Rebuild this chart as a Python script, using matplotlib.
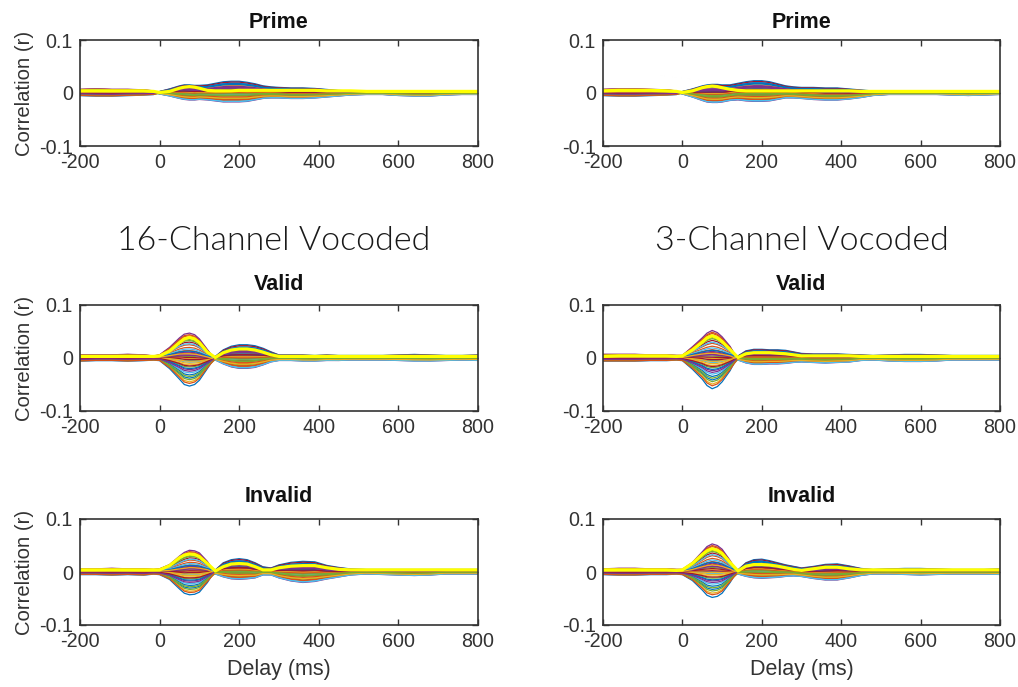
import numpy as np
import matplotlib
matplotlib.use("Agg")
import matplotlib.pyplot as plt

plt.rcParams['font.family'] = ['Liberation Sans', 'DejaVu Sans']
plt.rcParams['axes.unicode_minus'] = False

# Sample delays (ms) shared by all panels
delay_ms = [-200, -160, -120, -80, -40, -15, 0, 25, 50, 62, 75, 88, 100, 120, 140, 160, 180,
            200, 220, 240, 260, 280, 300, 330, 360, 390, 420, 450, 480, 520, 560,
            600, 640, 680, 720, 760, 800]

# Upper / lower channel envelopes and the summary (yellow) trace, per panel
prime16_upper = [.007, .008, .007, .007, .006, .004, .003, .008, .014, .016, .016, .015, .015, .016, .019, .022, .023,
                 .023, .021, .018, .014, .012, .011, .010, .010, .009, .007, .005, .004, .004, .004,
                 .004, .004, .004, .004, .004, .004]
prime16_lower = [-.005, -.006, -.006, -.005, -.004, -.003, -.002, -.006, -.011, -.013, -.014, -.014, -.013, -.014, -.016, -.018, -.018,
                 -.018, -.017, -.014, -.011, -.010, -.010, -.011, -.011, -.010, -.008, -.006, -.004, -.003, -.003,
                 -.005, -.006, -.006, -.004, -.003, -.003]
prime16_mean = [.004, .004, .004, .004, .004, .003, .001, .003, .009, .011, .012, .011, .009, .005, .004, .004, .004,
                .005, .005, .005, .005, .005, .005, .005, .005, .005, .004, .004, .004, .003, .003,
                .003, .003, .003, .003, .003, .003]

prime3_upper = [.007, .008, .008, .007, .006, .004, .003, .008, .014, .016, .017, .017, .016, .016, .019, .022, .024,
                .024, .022, .018, .014, .012, .011, .011, .010, .010, .008, .006, .004, .004, .004,
                .004, .004, .004, .004, .004, .004]
prime3_lower = [-.005, -.006, -.006, -.005, -.004, -.003, -.002, -.008, -.015, -.018, -.019, -.019, -.018, -.015, -.014, -.016, -.017,
                -.017, -.016, -.013, -.010, -.010, -.011, -.013, -.014, -.014, -.012, -.009, -.005, -.003, -.003,
                -.003, -.003, -.004, -.005, -.004, -.003]
prime3_mean = [.004, .005, .005, .005, .004, .003, .001, .004, .010, .012, .013, .012, .010, .007, .005, .004, .004,
               .004, .004, .004, .004, .004, .004, .004, .004, .004, .004, .003, .003, .003, .003,
               .003, .003, .003, .003, .003, .003]

valid16_upper = [.006, .006, .006, .007, .006, .004, .006, .020, .038, .045, .047, .044, .036, .016, .003, .016, .023,
                 .026, .026, .024, .019, .012, .006, .006, .006, .005, .006, .005, .005, .005, .005,
                 .006, .007, .006, .005, .005, .006]
valid16_lower = [-.006, -.005, -.005, -.006, -.005, -.004, -.005, -.020, -.040, -.050, -.053, -.050, -.042, -.020, -.004, -.012, -.018,
                 -.021, -.021, -.019, -.014, -.008, -.005, -.005, -.006, -.006, -.005, -.005, -.004, -.004, -.004,
                 -.005, -.006, -.006, -.005, -.004, -.005]
valid16_mean = [.003, .003, .003, .003, .003, .003, .004, .013, .029, .036, .039, .036, .029, .011, .001, .010, .015,
                .017, .017, .015, .011, .006, .003, .003, .003, .003, .003, .003, .003, .003, .003,
                .003, .003, .003, .003, .003, .003]

valid3_upper = [.007, .007, .007, .006, .006, .005, .005, .021, .038, .047, .052, .048, .040, .022, .004, .014, .017,
                .017, .016, .016, .015, .012, .009, .008, .008, .008, .007, .006, .005, .006, .007,
                .007, .006, .005, .005, .005, .005]
valid3_lower = [-.006, -.006, -.006, -.005, -.005, -.004, -.005, -.021, -.040, -.052, -.058, -.054, -.045, -.024, -.004, -.010, -.013,
                -.013, -.012, -.012, -.011, -.009, -.008, -.009, -.010, -.009, -.008, -.005, -.004, -.006, -.007,
                -.007, -.006, -.004, -.004, -.004, -.004]
valid3_mean = [.003, .004, .004, .004, .004, .003, .004, .015, .030, .038, .042, .038, .031, .016, .001, .008, .010,
               .010, .010, .009, .008, .006, .004, .004, .004, .004, .004, .003, .003, .003, .003,
               .003, .003, .003, .003, .003, .003]

invalid16_upper = [.006, .006, .007, .006, .006, .005, .006, .014, .030, .037, .041, .040, .036, .020, .004, .018, .024,
                   .026, .024, .018, .010, .008, .014, .019, .021, .020, .013, .009, .006, .005, .005,
                   .005, .005, .005, .005, .005, .005]
invalid16_lower = [-.005, -.005, -.006, -.005, -.006, -.004, -.005, -.014, -.032, -.040, -.043, -.042, -.038, -.020, -.004, -.010, -.014,
                   -.015, -.014, -.012, -.006, -.006, -.012, -.018, -.021, -.019, -.014, -.010, -.006, -.004, -.005,
                   -.006, -.007, -.006, -.004, -.004, -.004]
invalid16_mean = [.004, .004, .004, .004, .004, .004, .004, .012, .027, .032, .034, .033, .029, .016, .002, .010, .015,
                  .016, .015, .010, .004, .004, .008, .011, .012, .012, .008, .005, .004, .004, .004,
                  .004, .004, .004, .004, .004, .004]

invalid3_upper = [.006, .007, .007, .006, .006, .005, .005, .018, .038, .048, .053, .050, .043, .022, .004, .018, .024,
                  .025, .022, .018, .014, .011, .008, .011, .015, .016, .012, .007, .005, .006, .007,
                  .007, .006, .005, .005, .005, .006]
invalid3_lower = [-.005, -.006, -.006, -.005, -.005, -.004, -.005, -.016, -.034, -.044, -.048, -.046, -.040, -.020, -.004, -.009, -.012,
                  -.013, -.012, -.011, -.009, -.008, -.009, -.013, -.016, -.016, -.012, -.007, -.004, -.004, -.005,
                  -.006, -.005, -.004, -.004, -.004, -.005]
invalid3_mean = [.004, .004, .004, .004, .004, .003, .004, .016, .033, .040, .044, .041, .035, .018, .002, .011, .014,
                 .014, .013, .011, .008, .005, .003, .006, .009, .009, .006, .004, .004, .004, .004,
                 .004, .004, .004, .004, .004, .004]

# Where each channel sits between the envelopes, before and after the switch delay
early_position = [0.00, 0.97, 0.52, 0.31, 0.88, 0.45, 0.62, 0.15, 0.73, 0.40, 1.00, 0.56, 0.25, 0.83,
                  0.48, 0.67, 0.08, 0.59, 0.36, 0.92, 0.50, 0.21, 0.78, 0.43, 0.64, 0.12, 0.70, 0.54,
                  0.33, 0.95, 0.47, 0.58, 0.18, 0.80, 0.38, 0.66, 0.05, 0.61, 0.28, 0.86]
late_position = [0.98, 0.10, 0.55, 0.72, 0.30, 0.61, 0.44, 0.86, 0.22, 0.50, 0.03, 0.68, 0.90, 0.35,
                 0.57, 0.14, 0.79, 0.41, 0.64, 0.07, 0.52, 0.83, 0.26, 0.47, 0.75, 0.18, 0.38, 0.94,
                 0.60, 0.12, 0.49, 0.70, 0.33, 0.05, 0.58, 0.88, 0.45, 0.20, 0.66, 0.40]
# Delay (ms) at which channels swap from early to late ordering, per row (narrowest point)
switch_ms = [0, 140, 140]

row_titles = ['Prime', 'Valid', 'Invalid']
column_headings = ['16-Channel Vocoded', '3-Channel Vocoded']
x_ticks = [-200, 0, 200, 400, 600, 800]
y_ticks = [-0.1, 0, 0.1]
y_tick_labels = ['-0.1', '0', '0.1']

panels = [
    [(prime16_upper, prime16_lower, prime16_mean), (prime3_upper, prime3_lower, prime3_mean)],
    [(valid16_upper, valid16_lower, valid16_mean), (valid3_upper, valid3_lower, valid3_mean)],
    [(invalid16_upper, invalid16_lower, invalid16_mean), (invalid3_upper, invalid3_lower, invalid3_mean)],
]

line_colors = ['#0072BD', '#D95319', '#EDB120', '#7E2F8E', '#77AC30', '#4DBEEE', '#A2142F']
frame_color = '#333333'

W, H = 1018, 687
fig = plt.figure(figsize=(W / 100, H / 100), dpi=100)

col_x = [(80, 478), (603, 1000)]
row_y = [(40, 146), (305, 411), (519, 625)]
title_y = [22, 285, 497]


def px_rect(x0, x1, y0, y1):
    return [x0 / W, 1 - y1 / H, (x1 - x0) / W, (y1 - y0) / H]


t = np.array(delay_ms, dtype=float)

for r in range(3):
    for c in range(2):
        up, lo, mean = (np.array(a) for a in panels[r][c])
        ax = fig.add_axes(px_rect(col_x[c][0], col_x[c][1], row_y[r][0], row_y[r][1]))
        for k, (fe, fl) in enumerate(zip(early_position, late_position)):
            frac = np.where(t < switch_ms[r], fe, fl)
            ax.plot(t, lo + frac * (up - lo), color=line_colors[k % len(line_colors)], lw=0.9)
        ax.plot(t, mean, color='#ffff00', lw=2.3)

        ax.set_xlim(-200, 800)
        ax.set_ylim(-0.1, 0.1)
        ax.set_xticks(x_ticks)
        ax.set_yticks(y_ticks)
        ax.set_yticklabels(y_tick_labels)
        ax.tick_params(direction='in', length=4, width=1, colors=frame_color,
                       labelsize=14.2, top=True, right=True, pad=5)
        for sp in ax.spines.values():
            sp.set_color(frame_color)
            sp.set_linewidth(1.2)

        fig.text((col_x[c][0] + col_x[c][1]) / 2 / W, 1 - title_y[r] / H, row_titles[r],
                 ha='center', va='center', fontsize=15.5, fontweight='bold', color='#111111')

        if c == 0:
            ax.set_ylabel('Correlation (r)', fontsize=14.6, color=frame_color)
            ax.yaxis.set_label_coords(-56 / 398, 0.5)
            ax.yaxis.label.set_va('center')
        if r == 2:
            ax.set_xlabel('Delay (ms)', fontsize=15.5, color=frame_color)
            ax.xaxis.set_label_coords(0.5, -45 / 106)
            ax.xaxis.label.set_va('center')

# Column headings between the Prime row and the Valid row
for cx, text in zip([274, 802], column_headings):
    fig.text(cx / W, 1 - 241 / H, text, ha='center', va='center', fontsize=24.5,
             family=['Lato', 'DejaVu Sans'], fontweight=300, color='#1a1a1a')

fig.savefig('out.png', dpi=100)
